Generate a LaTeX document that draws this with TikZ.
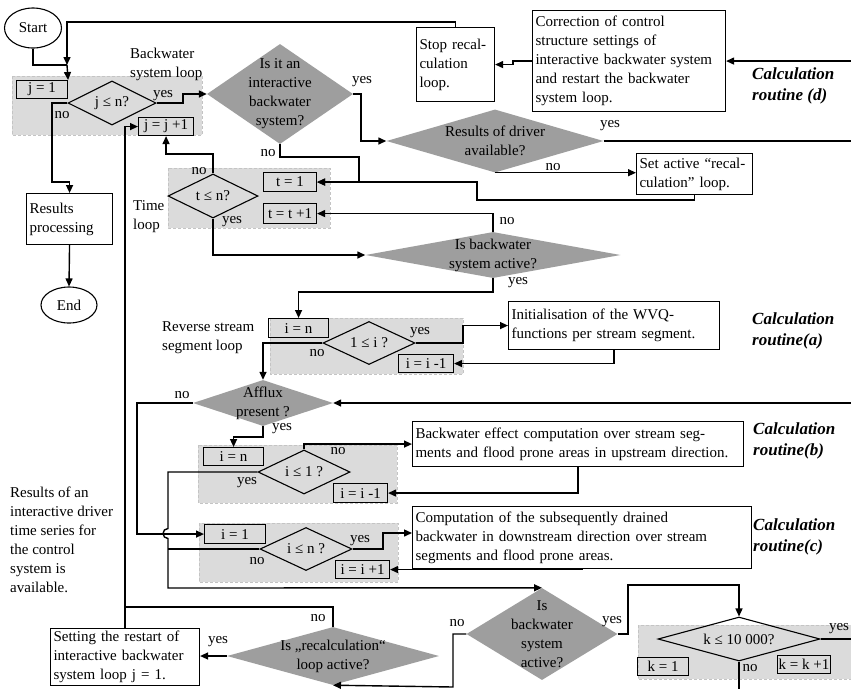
\documentclass[tikz,border=0pt]{standalone}
\usepackage{fontspec}
\setmainfont{Liberation Serif}
\usetikzlibrary{shapes.geometric,arrows.meta}
\definecolor{dgray}{RGB}{158,158,158}
\definecolor{rgray}{RGB}{219,219,219}
\definecolor{rline}{RGB}{196,196,196}
\begin{document}
\begin{tikzpicture}[x=1pt,y=-1pt,
  every node/.style={font=\fontsize{15}{19}\selectfont},
  box/.style={draw,line width=1.1pt,anchor=north west,inner xsep=3pt,inner ysep=0pt,align=left},
  sbox/.style={draw,line width=1.1pt,anchor=north west,inner sep=0pt,align=center},
  wdia/.style={diamond,draw,line width=1.1pt,inner sep=0pt},
  gdia/.style={diamond,fill=dgray,inner sep=0pt},
  dtxt/.style={align=center,inner sep=0pt},
  region/.style={fill=rgray,draw=rline,dash pattern=on 3pt off 2pt,line width=0.8pt},
  lab/.style={inner sep=0pt},
  ln/.style={line width=1.4pt},
  arr/.style={line width=1.4pt,-{Triangle[length=8pt,width=7pt]}},
  calcr/.style={font=\fontsize{17}{21}\selectfont\bfseries\itshape,align=left,anchor=west,inner sep=0pt},
]
\fill[white] (0,0) rectangle (851,689);
\useasboundingbox (0,0) rectangle (851,689);

% loop regions
\path[region] (12,76) rectangle (202,135);
\path[region] (168,168) rectangle (330,228);
\path[region] (270,318) rectangle (463,374);
\path[region] (198,445) rectangle (397,503);
\path[region] (199,523) rectangle (398,582);
\path[region] (638,625) rectangle (852,679);

% terminals
\node[ellipse,draw,line width=1.1pt,minimum width=57pt,minimum height=40pt,inner sep=0pt] (start) at (33,28) {Start};
\node[ellipse,draw,line width=1.1pt,minimum width=56pt,minimum height=36pt,inner sep=0pt] (endn) at (69,305) {End};

% small boxes
\node[sbox,minimum width=51pt,minimum height=18pt] (j1) at (16,80) {j = 1};
\node[sbox,minimum width=55pt,minimum height=18pt] (jinc) at (138,117) {j = j +1};
\node[sbox,minimum width=53pt,minimum height=19pt] (t1) at (263,172) {t = 1};
\node[sbox,minimum width=53pt,minimum height=20pt] (tinc) at (263,203) {t = t +1};
\node[sbox,minimum width=60pt,minimum height=19pt] (in1) at (268,318) {i = n};
\node[sbox,minimum width=55pt,minimum height=18pt] (idec1) at (398,354) {i = i -1};
\node[sbox,minimum width=60pt,minimum height=18pt] (in2) at (203,447) {i = n};
\node[sbox,minimum width=54pt,minimum height=19pt] (idec2) at (333,483) {i = i -1};
\node[sbox,minimum width=61pt,minimum height=19pt] (i1) at (204,524) {i = 1};
\node[sbox,minimum width=54pt,minimum height=18pt] (iinc) at (335,560) {i = i +1};
\node[sbox,minimum width=51pt,minimum height=18pt] (k1) at (637,657) {k = 1};
\node[sbox,minimum width=53pt,minimum height=18pt] (kinc) at (777,655) {k = k +1};

% text boxes
\node[box,text width=80pt,minimum height=51pt] (results) at (26,193) {Results\\processing};
\node[box,text width=72pt,minimum height=74pt] (stop) at (416,27) {Stop recal-\\culation\\loop.};
\node[box,text width=187pt,minimum height=101pt] (corr) at (532,10) {Correction of control\\structure settings of\\interactive backwater system\\and restart the backwater\\system loop.};
\node[box,text width=110pt,minimum height=41pt] (setact) at (636,153) {Set active “recal-\\culation” loop.};
\node[box,text width=205pt,minimum height=48pt] (init) at (508,301) {Initialisation of the WVQ-\\functions per stream segment.};
\node[box,text width=325pt,minimum height=45pt] (bweff) at (412,421) {Backwater effect computation over stream seg-\\ments and flood prone areas in upstream direction.};
\node[box,text width=333pt,minimum height=62pt] (comp) at (412,506) {Computation of the subsequently drained\\backwater in downstream direction over stream\\segments and flood prone areas.};
\node[box,text width=143pt,minimum height=57pt] (setting) at (50,628) {Setting the restart of\\interactive backwater\\system loop j = 1.};

% white decision diamonds
\node[wdia,minimum width=88pt,minimum height=44pt,label={[dtxt]center:j ≤ n?}] (jle) at (112,103) {};
\node[wdia,minimum width=90pt,minimum height=44pt,label={[dtxt]center:t ≤ n?}] (tle) at (213,196) {};
\node[wdia,minimum width=92pt,minimum height=43pt,label={[dtxt]center:1 ≤ i ?}] (onele) at (369,343) {};
\node[wdia,minimum width=92pt,minimum height=44pt,label={[dtxt]center:i ≤ 1 ?}] (ile1) at (304,472) {};
\node[wdia,minimum width=92pt,minimum height=43pt,label={[dtxt]center:i ≤ n ?}] (ilen) at (306,549) {};
\node[wdia,minimum width=162pt,minimum height=44pt,label={[dtxt]center:k ≤ 10~000?}] (kle) at (739,639) {};

% grey decision diamonds
\node[gdia,minimum width=146pt,minimum height=100pt,label={[dtxt]center:{Is it an\\interactive\\backwater\\system?}}] (isint) at (280,94) {};
\node[gdia,minimum width=217pt,minimum height=63pt,label={[dtxt]center:{Results of driver\\available?}}] (resdrv) at (495,141) {};
\node[gdia,minimum width=255pt,minimum height=46pt,label={[dtxt]center:{Is backwater\\system active?}}] (bwact1) at (493,255) {};
\node[gdia,minimum width=140pt,minimum height=46pt,label={[dtxt]center:{Afflux\\present ?}}] (afflux) at (263,403) {};
\node[gdia,minimum width=212pt,minimum height=58pt,label={[dtxt]center:{Is „recalculation“\\loop active?}}] (recalc) at (333,656) {};
\node[gdia,minimum width=151pt,minimum height=92pt,label={[dtxt]center:{Is\\backwater\\system\\active?}}] (bwact2) at (542,634) {};

% free texts
\node[lab,align=left,anchor=west] (bsl) at (130,64) {Backwater\\system loop};
\node[lab,align=left,anchor=west] (tl) at (133,217) {Time\\loop};
\node[lab,align=left,anchor=west] (rsl) at (162,338) {Reverse stream\\segment loop};
\node[lab,align=left,anchor=west] (note) at (10,540) {Results of an\\interactive driver\\time series for\\the control\\system is\\available.};
\node[calcr] (cd) at (752,86) {Calculation\\routine (d)};
\node[calcr] (ca) at (752,331) {Calculation\\routine(a)};
\node[calcr] (cb) at (753,441) {Calculation\\routine(b)};
\node[calcr] (cc) at (753,537) {Calculation\\routine(c)};

% yes / no labels
\node[lab] (y1) at (163,96) {yes};
\node[lab] (n1) at (62,115) {no};
\node[lab] (y2) at (362,82) {yes};
\node[lab] (n2) at (268,153) {no};
\node[lab] (y3) at (610,126) {yes};
\node[lab] (n3) at (553,167) {no};
\node[lab] (n4) at (199,171) {no};
\node[lab] (y4) at (232,222) {yes};
\node[lab] (n5) at (507,221) {no};
\node[lab] (y5) at (518,283) {yes};
\node[lab] (y6) at (420,333) {yes};
\node[lab] (n6) at (317,353) {no};
\node[lab] (n7) at (182,395) {no};
\node[lab] (y7) at (282,429) {yes};
\node[lab] (n8) at (338,451) {no};
\node[lab] (y8) at (247,483) {yes};
\node[lab] (y9) at (360,541) {yes};
\node[lab] (n9) at (257,561) {no};
\node[lab] (n10) at (318,618) {no};
\node[lab] (y10) at (218,642) {yes};
\node[lab] (n11) at (457,623) {no};
\node[lab] (y11) at (612,622) {yes};
\node[lab] (y12) at (839,629) {yes};
\node[lab] (n12) at (750,668) {no};

% connectors
\coordinate (m1) at (67,65);
\draw[ln] (start.south) |- (m1);
\draw[arr] (m1) -- (j1.north east);
\draw[arr] (stop.north) |- (67,22) -- (m1);
\draw[arr] (jle.east) -| (183,94) -- (isint.west);
\draw[arr] (jle.west) -| (52,182) -| (results.north);
\draw[arr] (results.south) -- (endn.north);
\draw[arr] (setting.north) |- (jinc.west);
\draw[ln] (recalc.north) |- (setting.north |- 0,607);
\draw[arr] (isint.east) -| (361,141) -- (resdrv.west);
\draw[arr] (isint.south) -- (280,157) -| (t1.east -| 359,0) -- (t1.east);
\draw[arr] (setact.south) |- (477,200) |- (t1.east);
\draw[arr] (resdrv.south) -- (resdrv.south -| setact.west);
\draw[ln] (resdrv.east) -- (resdrv.east -| 851,0);
\draw[arr] (corr.east -| 851,0) -- (corr.east);
\draw[arr] (corr.west) -- (corr.west -| 513,0) |- (stop.east);
\draw[arr] (tle.north) -- (213,154) -| (jinc.south);
\draw[arr] (tle.south) |- (bwact1.west);
\draw[arr] (bwact1.north) |- (tinc.east);
\draw[arr] (bwact1.south) -- (493,292) -| (in1.north);
\draw[arr] (onele.east) -| (init.west -| 463,0) -- (init.west);
\draw[arr] (init.south) |- (idec1.east);
\draw[arr] (onele.west) -| (afflux.north);
\draw[arr] (afflux.east -| 851,0) -- (afflux.east);
\draw[arr] (afflux.west) -| (i1.west -| 137,0) -- (i1.west);
\draw[arr] (ile1.west) -| (168,528.5) arc[start angle=90,end angle=270,radius=5pt] -- (168,588) -- (bwact2.north);
\draw[ln] (ilen.west) -- (ilen.west -| 168,0);
\draw[arr] (afflux.south) -- (263,437) -| (in2.north);
\draw[arr] (ile1.north) |- (bweff.west);
\draw[arr] (bweff.south) |- (idec2.east);
\draw[arr] (ilen.east) -| (383,533) -- (383,533 -| comp.west);
\draw[arr] (comp.south) |- (iinc.east);
\draw[arr] (recalc.west) -- (recalc.west -| setting.east);
\draw[arr] (bwact2.west) -| (453,687) -- (recalc.south);
\draw[arr] (bwact2.east) -| (628,585) -| (kle.north);
\draw[ln] (kle.east) -- (kle.east -| 851,0);
\draw[ln] (kle.south) -- (kle.south |- 0,689);
\end{tikzpicture}
\end{document}
